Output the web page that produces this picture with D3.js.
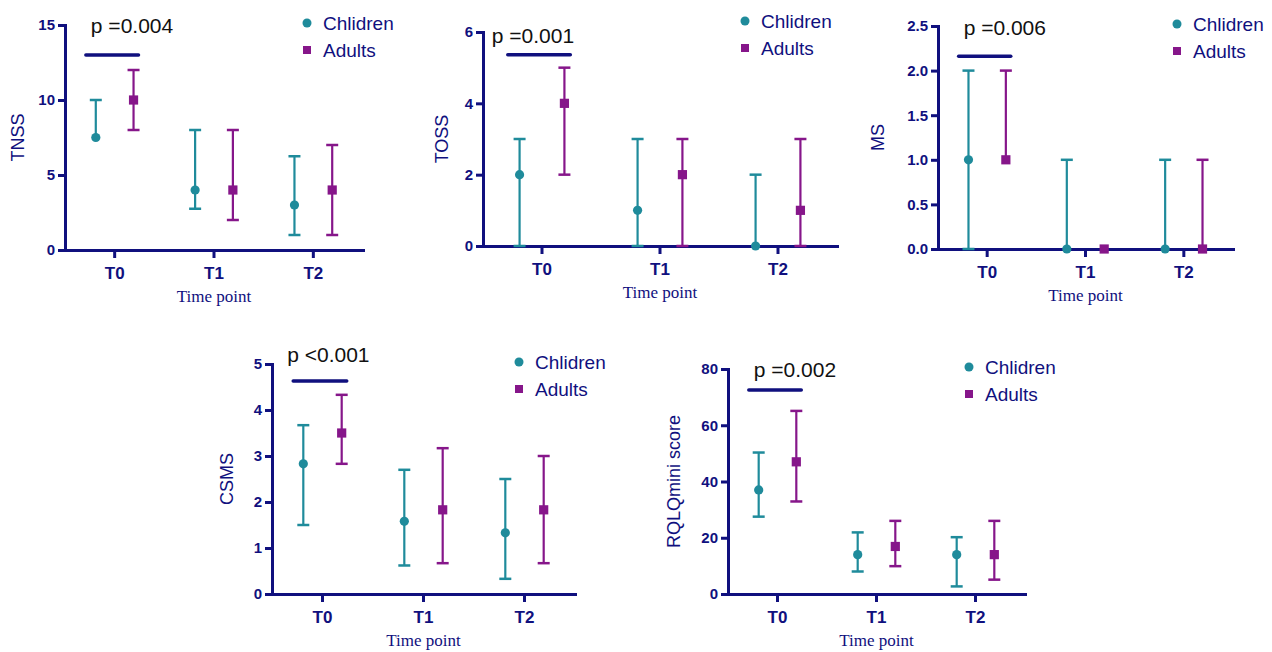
<!DOCTYPE html>
<html>
<head>
<meta charset="utf-8">
<script src="https://cdn.jsdelivr.net/npm/d3@7"></script>
<style>
  body { margin: 0; background: #fff; }
  svg { display: block; }
</style>
</head>
<body>
<svg id="chart"></svg>
<script>
// categories
const timePoints = ["T0", "T1", "T2"];
const groups = ["Chlidren", "Adults"];

// each row: [median, low, high] for T0, T1, T2
const tnssChildren = [[7.5, 7.5, 10], [4, 2.75, 8], [3, 1, 6.25]];
const tnssAdults   = [[10, 8, 12], [4, 2, 8], [4, 1, 7]];

const tossChildren = [[2, 0, 3], [1, 0, 3], [0, 0, 2]];
const tossAdults   = [[4, 2, 5], [2, 0, 3], [1, 0, 3]];

const msChildren = [[1, 0, 2], [0, 0, 1], [0, 0, 1]];
const msAdults   = [[1, 1, 2], [0, 0, 0], [0, 0, 1]];

const csmsChildren = [[2.83, 1.5, 3.67], [1.58, 0.62, 2.7], [1.33, 0.33, 2.5]];
const csmsAdults   = [[3.5, 2.83, 4.33], [1.83, 0.67, 3.17], [1.83, 0.67, 3.0]];

const rqlqChildren = [[37, 27.5, 50.3], [14, 8, 21.9], [14, 2.7, 20.2]];
const rqlqAdults   = [[47, 32.9, 65.1], [16.9, 9.9, 26], [14, 5.1, 26]];

// y tick labels per panel
const tnssTicks = [0, 5, 10, 15];
const tossTicks = [0, 2, 4, 6];
const msTicks = [0, 0.5, 1.0, 1.5, 2.0, 2.5];
const csmsTicks = [0, 1, 2, 3, 4, 5];
const rqlqTicks = [0, 20, 40, 60, 80];

// significance labels
const pLabels = ["p =0.004", "p =0.001", "p =0.006", "p <0.001", "p =0.002"];
const pLevels = [13, 5.36, 2.16, 4.63, 72.5];

const NAVY = "#10107e";
const TEAL = "#1f8b9b";
const PURPLE = "#86168a";

const svg = d3.select("#chart").attr("width", 1272).attr("height", 652);

// layout for each panel
const panels = [
  { title: "TNSS", children: tnssChildren, adults: tnssAdults, ticks: tnssTicks, fmt: d3.format("d"),
    x0: 65, x1: 363, yTop: 25, yZero: 250, yLabelX: 18, legX: 307, legY: 23, pdx: 5, pdy: -22, p: 0 },
  { title: "TOSS", children: tossChildren, adults: tossAdults, ticks: tossTicks, fmt: d3.format("d"),
    x0: 483, x1: 837, yTop: 32, yZero: 246, yLabelX: 442, legX: 745, legY: 21, pdx: -16, pdy: -12, p: 1 },
  { title: "MS", children: msChildren, adults: msAdults, ticks: msTicks, fmt: d3.format(".1f"),
    x0: 938, x1: 1233, yTop: 26, yZero: 249, yLabelX: 878, legX: 1177, legY: 24, pdx: 5, pdy: -21, p: 2 },
  { title: "CSMS", children: csmsChildren, adults: csmsAdults, ticks: csmsTicks, fmt: d3.format("d"),
    x0: 272, x1: 575, yTop: 364, yZero: 594, yLabelX: 227, legX: 519, legY: 362, pdx: -6, pdy: -19, p: 3 },
  { title: "RQLQmini score", children: rqlqChildren, adults: rqlqAdults, ticks: rqlqTicks, fmt: d3.format("d"),
    x0: 728, x1: 1025, yTop: 369, yZero: 594, yLabelX: 674, legX: 969, legY: 367, pdx: 5, pdy: -13, p: 4 }
];

panels.forEach(drawPanel);

function drawPanel(cfg) {
  const g = svg.append("g");

  const x = d3.scaleBand().domain(timePoints).range([cfg.x0, cfg.x1]);
  const bw = x.bandwidth();
  const cx = t => x(t) + bw / 2;
  const y = d3.scaleLinear()
    .domain([0, d3.max(cfg.ticks)])
    .range([cfg.yZero, cfg.yTop]);

  // axes
  const gx = g.append("g")
    .attr("transform", `translate(0,${cfg.yZero})`)
    .call(d3.axisBottom(x).tickSize(8).tickSizeOuter(0).tickPadding(9));
  gx.selectAll("text")
    .attr("font-family", "Arial, 'Liberation Sans', sans-serif")
    .attr("font-size", 17)
    .attr("font-weight", "bold")
    .attr("fill", NAVY);

  const gy = g.append("g")
    .attr("transform", `translate(${cfg.x0},0)`)
    .call(d3.axisLeft(y).tickValues(cfg.ticks).tickFormat(cfg.fmt).tickSize(7).tickSizeOuter(0).tickPadding(3));
  gy.selectAll("text")
    .attr("font-family", "Arial, 'Liberation Sans', sans-serif")
    .attr("font-size", 15)
    .attr("font-weight", "bold")
    .attr("fill", NAVY);

  [gx, gy].forEach(a => {
    a.select(".domain").attr("stroke", NAVY).attr("stroke-width", 3).attr("stroke-linecap", "square");
    a.selectAll(".tick line").attr("stroke", NAVY).attr("stroke-width", 3);
  });

  // axis labels
  g.append("text")
    .attr("x", cx("T1"))
    .attr("y", cfg.yZero + 52)
    .attr("text-anchor", "middle")
    .attr("font-family", "'Times New Roman', 'Liberation Serif', serif")
    .attr("font-size", 17)
    .attr("fill", NAVY)
    .text("Time point");

  g.append("text")
    .attr("transform", `translate(${cfg.yLabelX},${(cfg.yTop + cfg.yZero) / 2}) rotate(-90)`)
    .attr("dy", "0.35em")
    .attr("text-anchor", "middle")
    .attr("font-family", "Arial, 'Liberation Sans', sans-serif")
    .attr("font-size", 18)
    .attr("fill", NAVY)
    .text(cfg.title);

  // error bars + markers
  const series = [
    { name: groups[0], rows: cfg.children, color: TEAL, off: -0.19, shape: "circle" },
    { name: groups[1], rows: cfg.adults, color: PURPLE, off: 0.19, shape: "square" }
  ];

  series.forEach(s => {
    const pts = s.rows.map((r, i) => ({ t: timePoints[i], med: r[0], lo: r[1], hi: r[2] }));
    const px = d => cx(d.t) + s.off * bw;

    g.selectAll(null).data(pts).enter().append("line")
      .attr("x1", px).attr("x2", px)
      .attr("y1", d => y(d.lo)).attr("y2", d => y(d.hi))
      .attr("stroke", s.color).attr("stroke-width", 2.2);

    // caps only where the range extends past the median
    const caps = [];
    pts.forEach(d => {
      if (d.hi !== d.med) caps.push({ d, v: d.hi });
      if (d.lo !== d.med) caps.push({ d, v: d.lo });
    });
    g.selectAll(null).data(caps).enter().append("line")
      .attr("x1", c => px(c.d) - 6).attr("x2", c => px(c.d) + 6)
      .attr("y1", c => y(c.v)).attr("y2", c => y(c.v))
      .attr("stroke", s.color).attr("stroke-width", 2.5);

    if (s.shape === "circle") {
      g.selectAll(null).data(pts).enter().append("circle")
        .attr("cx", px).attr("cy", d => y(d.med)).attr("r", 4.6)
        .attr("fill", s.color);
    } else {
      g.selectAll(null).data(pts).enter().append("rect")
        .attr("x", d => px(d) - 4.6).attr("y", d => y(d.med) - 4.6)
        .attr("width", 9.2).attr("height", 9.2)
        .attr("fill", s.color);
    }

    // legend
    const ly = s.shape === "circle" ? cfg.legY : cfg.legY + 27;
    if (s.shape === "circle") {
      g.append("circle").attr("cx", cfg.legX).attr("cy", ly).attr("r", 4.5).attr("fill", s.color);
    } else {
      g.append("rect").attr("x", cfg.legX - 4).attr("y", ly - 4).attr("width", 8).attr("height", 8).attr("fill", s.color);
    }
    g.append("text")
      .attr("x", cfg.legX + 16)
      .attr("y", ly)
      .attr("dy", "0.35em")
      .attr("font-family", "Arial, 'Liberation Sans', sans-serif")
      .attr("font-size", 19)
      .attr("fill", NAVY)
      .text(s.name);
  });

  // significance bar
  const lx1 = cx("T0") - 0.29 * bw;
  const lx2 = cx("T0") + 0.24 * bw;
  const lyv = y(pLevels[cfg.p]);
  g.append("line")
    .attr("x1", lx1).attr("x2", lx2)
    .attr("y1", lyv).attr("y2", lyv)
    .attr("stroke", NAVY).attr("stroke-width", 3.5).attr("stroke-linecap", "round");
  g.append("text")
    .attr("x", lx1 + cfg.pdx)
    .attr("y", lyv + cfg.pdy)
    .attr("font-family", "Arial, 'Liberation Sans', sans-serif")
    .attr("font-size", 21)
    .attr("fill", "#111")
    .text(pLabels[cfg.p]);
}
</script>
</body>
</html>
